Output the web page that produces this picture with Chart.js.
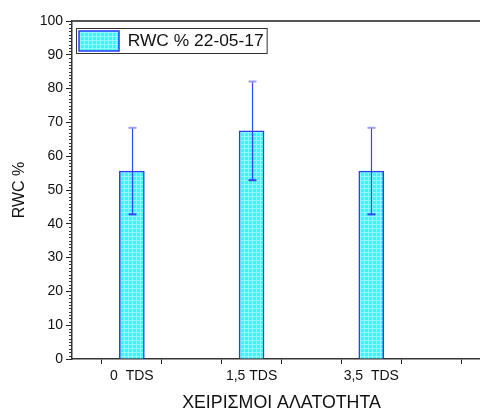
<!DOCTYPE html>
<html>
<head>
<meta charset="utf-8">
<script src="https://cdn.jsdelivr.net/npm/chart.js@4"></script>
<style>
  html, body { margin: 0; padding: 0; background: #fff; overflow: hidden; }
  #wrap { width: 500px; height: 412px; }
</style>
</head>
<body>
<div id="wrap"><canvas id="mycanvas"></canvas></div>
<script>
const categories = ['0  TDS', '1,5 TDS', '3,5  TDS'];
const rwc = [55.6, 67.5, 55.6];
const rwcErr = [12.8, 14.6, 12.8];
const seriesLabel = 'RWC % 22-05-17';
const xTitle = 'ΧΕΙΡΙΣΜΟΙ ΑΛΑΤΟΤΗΤΑ';
const yTitle = 'RWC %';

Chart.defaults.font.family = "'Liberation Sans', Arial, sans-serif";
Chart.defaults.color = '#111';

// cyan grid fill like the original bars
function makePattern(ctx) {
    const c = document.createElement('canvas');
    c.width = 4;
    c.height = 4;
    const g = c.getContext('2d');
    g.fillStyle = '#38f6fc';
    g.fillRect(0, 0, 4, 4);
    g.fillStyle = '#8cfbff';
    g.fillRect(0, 0, 4, 1);
    g.fillRect(0, 0, 1, 4);
    return ctx.createPattern(c, 'repeat');
}

const extras = {
    id: 'extras',
    afterDatasetsDraw(chart) {
        const { ctx, scales: { x, y } } = chart;
        ctx.save();
        rwc.forEach((v, i) => {
            const px = Math.round(x.getPixelForValue(i)) + 0.5;
            const top = y.getPixelForValue(v + rwcErr[i]);
            const bot = y.getPixelForValue(v - rwcErr[i]);
            ctx.strokeStyle = '#2f45ff';
            ctx.lineWidth = 1.2;
            ctx.beginPath();
            ctx.moveTo(px, top);
            ctx.lineTo(px, bot);
            ctx.stroke();
            ctx.lineWidth = 2;
            ctx.strokeStyle = '#9a9cff';
            ctx.beginPath();
            ctx.moveTo(px - 4, top);
            ctx.lineTo(px + 4, top);
            ctx.stroke();
            ctx.strokeStyle = '#2f45ff';
            ctx.beginPath();
            ctx.moveTo(px - 4, bot);
            ctx.lineTo(px + 4, bot);
            ctx.stroke();
        });
        ctx.restore();
    },
    afterDraw(chart) {
        const { ctx, chartArea: a, scales: { y } } = chart;
        ctx.save();
        // top frame line
        ctx.strokeStyle = '#555';
        ctx.lineWidth = 2;
        ctx.beginPath();
        ctx.moveTo(a.left, a.top);
        ctx.lineTo(a.right, a.top);
        ctx.stroke();
        // minor ticks on y
        ctx.strokeStyle = '#333';
        ctx.lineWidth = 1;
        for (let v = y.min; v <= y.max; v++) {
            if (v % 10 === 0) continue;
            const py = Math.round(y.getPixelForValue(v)) + 0.5;
            ctx.beginPath();
            ctx.moveTo(a.left - 3, py);
            ctx.lineTo(a.left, py);
            ctx.stroke();
        }
        // legend frame
        const hb = chart.legend.legendHitBoxes[0];
        if (hb) {
            ctx.strokeStyle = '#333';
            ctx.lineWidth = 1;
            ctx.strokeRect(Math.round(hb.left) - 2.5, Math.round(hb.top) - 2.5, hb.width + 6, hb.height + 5);
        }
        ctx.restore();
    }
};

const mycanvas = document.getElementById('mycanvas').getContext('2d');
const chart = new Chart(mycanvas, {
    type: 'bar',
    data: {
        datasets: [
            {
                label: seriesLabel,
                data: rwc.map((v, i) => ({ x: i, y: v })),
                backgroundColor: makePattern(mycanvas),
                borderColor: '#2a3cf5',
                borderWidth: 1.5,
                barThickness: 25,
            }
        ]
    },
    options: {
        responsive: true,
        maintainAspectRatio: false,
        animation: false,
        layout: { padding: { top: 21, right: 9, left: 0, bottom: 0 } },
        plugins: {
            tooltip: { enabled: false },
            legend: {
                position: 'chartArea',
                align: 'start',
                // empty title just pushes the item down into the plot
                title: { display: true, text: ' ', font: { size: 10, lineHeight: 1 }, padding: { top: 14, bottom: 0 } },
                labels: {
                    boxWidth: 40,
                    boxHeight: 20,
                    padding: 7,
                    color: '#111',
                    font: { size: 17.4 },
                },
            },
        },
        scales: {
            x: {
                type: 'linear',
                min: -0.5,
                max: 3,
                offset: false,
                grid: { drawOnChartArea: false, tickLength: 5, color: '#222' },
                border: { color: '#333', width: 1.5 },
                ticks: {
                    stepSize: 0.5,
                    autoSkip: false,
                    maxRotation: 0,
                    padding: 4,
                    color: '#111',
                    font: { size: 14 },
                    callback: v => (Number.isInteger(v) && v >= 0 && v < categories.length) ? categories[v] : '',
                },
                title: { display: true, text: xTitle, color: '#111', font: { size: 17.8, lineHeight: 1 }, padding: 0 },
                afterFit: s => { s.height = 53; },
            },
            y: {
                min: 0,
                max: 100,
                grid: { drawOnChartArea: false, tickLength: 6, color: '#222' },
                border: { color: '#333', width: 1.5 },
                ticks: {
                    stepSize: 10,
                    padding: 3,
                    color: '#111',
                    font: { size: 14 },
                },
                title: { display: true, text: yTitle, color: '#111', font: { size: 16 }, padding: { top: 10, bottom: 0 } },
                afterFit: s => { s.width = 72; },
            }
        },
    },
    plugins: [extras],
});
</script>
</body>
</html>
